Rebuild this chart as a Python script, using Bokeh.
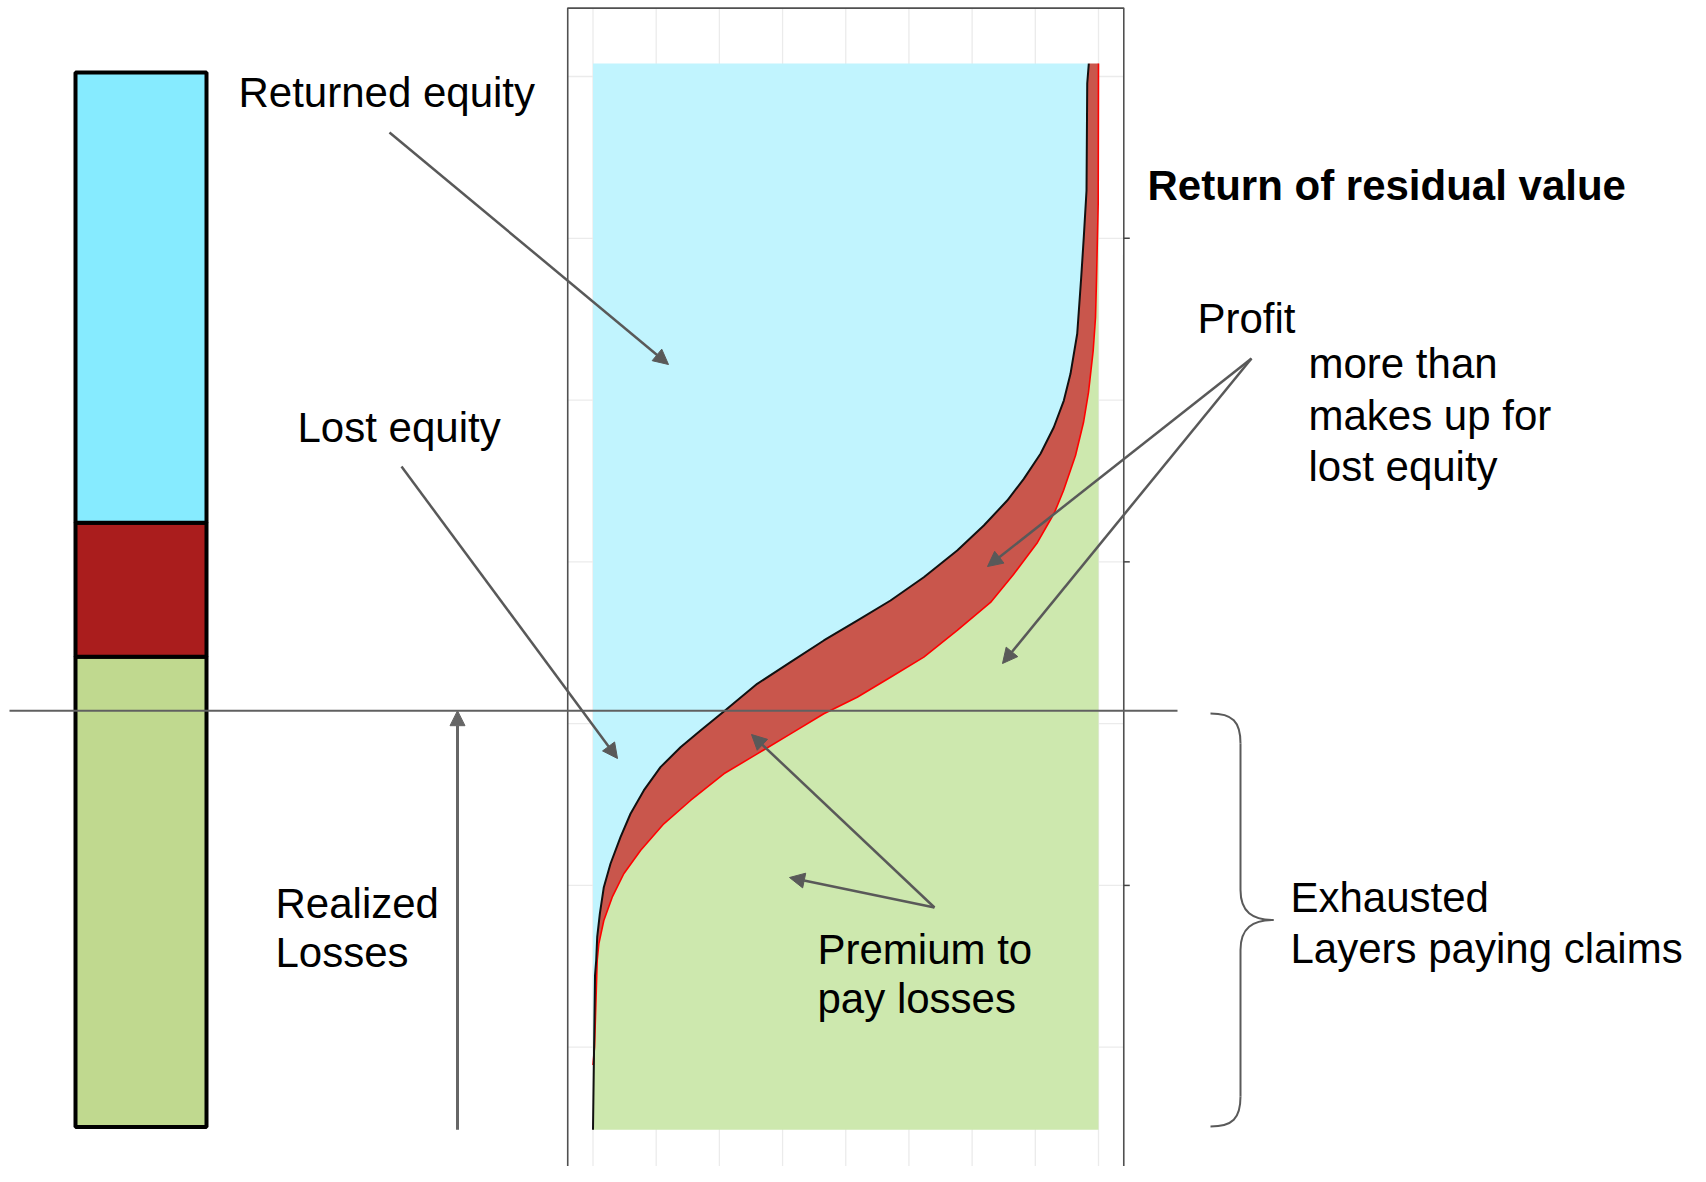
from bokeh.plotting import figure
from bokeh.models import Range1d, Label, Arrow, NormalHead
from bokeh.embed import file_html
from bokeh.resources import INLINE

# ---------------- data ----------------
# Left stacked bar (share of total capital, bottom to top)
bar_parts = ["Premium for expected losses", "Margin", "Equity"]
bar_values = [0.446, 0.127, 0.427]
bar_colors = ["#C0D98F", "#AA1D1D", "#86EBFF"]

# Middle chart: probability level p (x) against layer value (y)
assets_p = [0.0, 0.0040, 0.0063, 0.0083, 0.0135, 0.0214, 0.0346, 0.0544, 0.0742, 0.1005,
            0.1335, 0.1731, 0.2127, 0.2588, 0.3248, 0.3907, 0.4566, 0.5226, 0.5886, 0.6544,
            0.7205, 0.7731, 0.8194, 0.8522, 0.8853, 0.9116, 0.9314, 0.9446, 0.9579, 0.9658,
            0.9709, 0.9763, 0.9777, 0.9808]
assets_v = [0.49, 1.443, 1.536, 1.680, 1.824, 1.989, 2.134, 2.298, 2.443, 2.587,
            2.731, 2.854, 2.957, 3.075, 3.246, 3.380, 3.514, 3.637, 3.761, 3.905,
            4.070, 4.225, 4.379, 4.513, 4.668, 4.832, 4.997, 5.162, 5.410, 5.759,
            6.007, 6.295, 6.957, 7.08]
premium_p = [0.0, 0.0030, 0.0065, 0.0083, 0.0115, 0.0214, 0.0380, 0.0609, 0.0940, 0.1401,
             0.1929, 0.2588, 0.3248, 0.3907, 0.4566, 0.5226, 0.5886, 0.6544, 0.7205, 0.7864,
             0.8318, 0.8793, 0.9130, 0.9308, 0.9545, 0.9703, 0.9802, 0.9895, 0.9941, 0.9960,
             0.9994, 1.0]
premium_v = [0.89, 0.998, 1.350, 1.536, 1.639, 1.783, 1.927, 2.072, 2.216, 2.381,
             2.525, 2.690, 2.813, 2.937, 3.061, 3.163, 3.287, 3.411, 3.576, 3.749,
             3.922, 4.120, 4.305, 4.441, 4.657, 4.861, 5.047, 5.306, 5.510, 5.739,
             6.215, 7.08]
y_min, y_max = 0.49, 7.08
realized_loss = 3.08
x_breaks = [0.0, 0.125, 0.25, 0.375, 0.5, 0.625, 0.75, 0.875, 1.0]
y_major = [2, 4, 6]
y_minor = [1, 3, 5, 7]

# ---------------- layout (page pixels) ----------------
W, H, OFF = 1690, 1166, 0
P0_X, P1_X = 592.5, 1098.0          # page x of p = 0 and p = 1
V1_Y, V7_Y = 1046.7, 76.0           # page y of value 1 and value 7
B0_Y, B1_Y = 1126.5, 72.0           # page y of bar bottom / top
TEXT_DY = -15                       # baseline correction for labels

ppx = P1_X - P0_X
ppv = (V1_Y - V7_Y) / 6.0
ppb = B0_Y - B1_Y

p = figure(width=W, height=H, output_backend="svg", toolbar_location=None,
           x_axis_type=None, y_axis_type=None,
           x_range=Range1d(OFF, OFF + W), y_range=Range1d(OFF + H, OFF),
           min_border=0, outline_line_color=None,
           background_fill_color="white", border_fill_color="white")
p.grid.visible = False

p.extra_x_ranges = {"px": Range1d(0 - (P0_X - OFF) / ppx, 1 + (OFF + W - P1_X) / ppx)}
p.extra_y_ranges = {
    "pv": Range1d(1 - (OFF + H - V1_Y) / ppv, 7 + (V7_Y - OFF) / ppv),
    "bar": Range1d(-(OFF + H - B0_Y) / ppb, 1 + (B1_Y - OFF) / ppb),
}
PN = dict(x_range_name="px", y_range_name="pv")

# panel (ggplot-like expansion)
span = y_max - y_min
p_lo, p_hi = -0.05, 1.05
v_lo, v_hi = y_min - 0.05 * span, y_max + 0.052 * span

GRID = "#EBEBEB"
p.segment(x0=x_breaks, x1=x_breaks, y0=[v_lo] * len(x_breaks), y1=[v_hi] * len(x_breaks),
          line_color=GRID, line_width=1.3, **PN)
ys = sorted(y_major + y_minor)
p.segment(x0=[p_lo] * len(ys), x1=[p_hi] * len(ys), y0=ys, y1=ys,
          line_color=GRID, line_width=1.3, **PN)

# filled regions
p.patch(assets_p + [0.0], assets_v + [y_max], fill_color="#C1F4FE", line_color=None, **PN)
p.patch(assets_p + premium_p[::-1], assets_v + premium_v[::-1],
        fill_color="#C9564C", line_color=None, **PN)
p.patch(premium_p + [1.0, 0.0], premium_v + [y_min, y_min],
        fill_color="#CDE8AE", line_color=None, **PN)
p.line(premium_p, premium_v, line_color="#FF0000", line_width=1.6, line_join="round", **PN)
p.line(assets_p, assets_v, line_color="#111111", line_width=2, line_join="round", **PN)

# panel border and right ticks
p.quad(left=[p_lo], right=[p_hi], bottom=[v_lo], top=[v_hi], fill_color=None,
       line_color="#505050", line_width=1.6, **PN)
tick = 6.0 / ppx
p.segment(x0=[p_hi] * 3, x1=[p_hi + tick] * 3, y0=y_major, y1=y_major,
          line_color="#444444", line_width=1.5, **PN)

# left stacked bar
bottoms, tops, acc = [], [], 0.0
for v in bar_values:
    bottoms.append(acc)
    acc += v
    tops.append(acc)
p.quad(left=75, right=206, bottom=bottoms, top=tops, fill_color=bar_colors,
       line_color="black", line_width=4, y_range_name="bar")

# realized loss line
p.segment(x0=[9], x1=[1177], y0=[realized_loss], y1=[realized_loss],
          line_color="#606060", line_width=2, y_range_name="pv")

# arrows
AC = "#595959"
def arrow(x0, y0, x1, y1, **kw):
    p.add_layout(Arrow(end=NormalHead(size=15, fill_color=AC, line_color=AC),
                       x_start=x0, y_start=y0, x_end=x1, y_end=y1,
                       line_color=AC, line_width=2.5, **kw))

arrow(389, 132, 668, 364)           # returned equity
arrow(401, 466, 617, 758)           # lost equity
arrow(1251, 358, 987, 566)          # profit
arrow(1251, 358, 1002, 663)         # profit
arrow(934, 907, 751, 734)           # premium
arrow(934, 907, 789, 877)           # premium
p.add_layout(Arrow(end=NormalHead(size=15, fill_color="#666666", line_color="#666666"),
                   x_start=457, y_start=y_min, x_end=457, y_end=realized_loss,
                   y_range_name="pv", line_color="#666666", line_width=3))

# curly bracket
BC = "#5A5A5A"
top, bot, xe, xs, xt, r = 713.0, 1126.0, 1210.0, 1240.0, 1273.0, 30.0
mid = (top + bot) / 2
p.bezier(x0=[xe, xs, xt, xs], y0=[top, mid - r, mid, bot - r],
         x1=[xs, xt, xs, xe], y1=[top + r, mid, mid + r, bot],
         cx0=[xs - 8, xs, xs + 12, xs], cy0=[top, mid - 8, mid, bot - 8],
         cx1=[xs, xs + 12, xs, xs - 8], cy1=[top + 8, mid, mid + 8, bot],
         line_color=BC, line_width=2)
p.segment(x0=[xs, xs], x1=[xs, xs], y0=[top + r, mid + r], y1=[mid - r, bot - r],
          line_color=BC, line_width=2)

# texts
FONT = "Liberation Sans"
texts = [
    ("Returned equity", 238, 107, "normal"),
    ("Lost equity", 297, 442, "normal"),
    ("Realized", 275, 918, "normal"),
    ("Losses", 275, 967, "normal"),
    ("Premium to", 817, 964, "normal"),
    ("pay losses", 817, 1013, "normal"),
    ("Profit", 1197, 333, "normal"),
    ("more than", 1308, 378, "normal"),
    ("makes up for", 1308, 430, "normal"),
    ("lost equity", 1308, 481, "normal"),
    ("Return of residual value", 1147, 200, "bold"),
    ("Exhausted", 1290, 912, "normal"),
    ("Layers paying claims", 1290, 963, "normal"),
]
for t, x, y, st in texts:
    p.add_layout(Label(x=x, y=y + TEXT_DY, text=t, text_font=FONT, text_font_size="42px",
                       text_font_style=st, text_color="black",
                       text_baseline="alphabetic", text_align="left"))

open("out.html", "w").write(file_html(p, INLINE))
